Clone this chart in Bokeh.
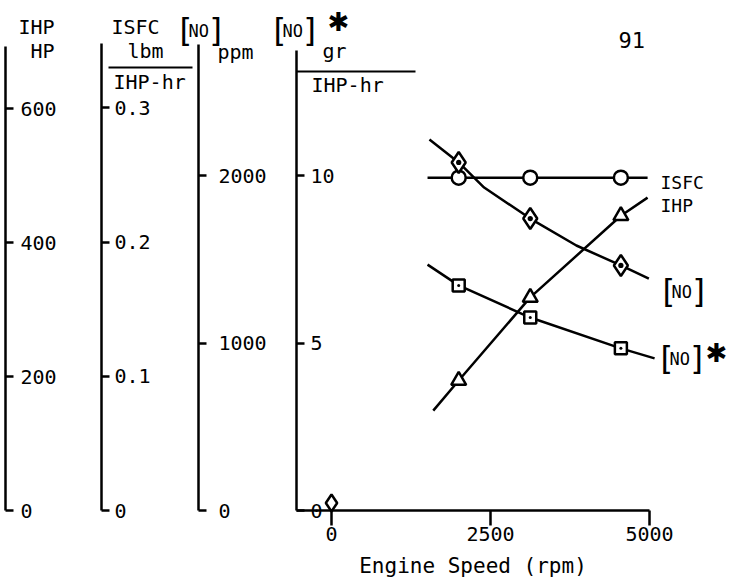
from bokeh.plotting import figure
from bokeh.models import Range1d, LinearAxis, FixedTicker, Label, BoxAnnotation
from bokeh.embed import file_html
from bokeh.resources import INLINE

# ---- test points (engine speed in rpm) ----
speed_rpm = [2000, 3125, 4550]
isfc_pts = [0.248, 0.248, 0.248]          # lbm / IHP-hr
ihp_pts = [194, 318, 440]                 # HP
no_ppm_pts = [2078, 1743, 1463]           # [NO], ppm
no_star_pts = [6.72, 5.76, 4.84]          # [NO]*, gr / IHP-hr

# ---- faired curves through the points ----
isfc_curve_rpm = [1510, 4970]
isfc_curve = [0.248, 0.248]
ihp_curve_rpm = [1600, 2000, 3125, 4550, 4970]
ihp_curve = [149, 194, 318, 440, 467]
no_curve_rpm = [1540, 2000, 2400, 3125, 3850, 4550, 4990]
no_curve = [2215, 2078, 1928, 1743, 1582, 1463, 1385]
no_star_curve_rpm = [1510, 2000, 3125, 4550, 5080]
no_star_curve = [7.34, 6.72, 5.76, 4.84, 4.54]

# isolated symbol at the origin
origin_rpm = [0]
origin_ppm = [45]

# ---- axis ticks ----
speed_ticks = [0, 2500, 5000]
hp_ticks = [0, 200, 400, 600]
isfc_ticks = [0, 0.1, 0.2, 0.3]
ppm_ticks = [0, 1000, 2000]
gr_ticks = [0, 5, 10]

# ---- page geometry: the frame fills the whole canvas ----
W, H = 735, 580
X0, SX = 331, 0.0636            # pixel of 0 rpm, pixels per rpm
Y0 = 510                        # pixel row of the common zero
S_GR, S_PPM, S_HP, S_ISFC = 33.5, 0.1675, 0.67, 1342.0   # pixels per unit

FONT = "DejaVu Sans Mono"
WEIGHT = "normal"
LW = 2.5


def rpm_at(px):
    return (px - X0) / SX


def gr_at(py):
    return (Y0 - py) / S_GR


def span(scale):
    return Range1d(-(H - Y0) / scale, Y0 / scale)


p = figure(width=W, height=H, x_range=Range1d(rpm_at(0), rpm_at(W)), y_range=span(S_GR),
           min_border=0, toolbar_location=None, output_backend="svg",
           x_axis_location=None, y_axis_location=None, outline_line_color=None)
p.grid.visible = False
p.extra_y_ranges = {"hp": span(S_HP), "isfc": span(S_ISFC), "ppm": span(S_PPM)}

axis_style = dict(axis_line_width=LW, axis_line_color="black",
                  major_tick_line_width=LW, major_tick_line_color="black", major_tick_in=0,
                  major_label_text_font=FONT, major_label_text_font_size="20px",
                  major_label_text_font_style=WEIGHT, major_label_text_color="black")


def vertical_axis(px, ticks, range_name, scale, top_px, standoff, overrides=None):
    ax = LinearAxis(y_range_name=range_name, fixed_location=rpm_at(px),
                    ticker=FixedTicker(ticks=ticks), bounds=(0, (Y0 - top_px) / scale),
                    major_tick_out=8, major_label_standoff=standoff, **axis_style)
    if overrides:
        ax.major_label_overrides = overrides
    p.add_layout(ax, "right")


vertical_axis(5, hp_ticks, "hp", S_HP, 46, 7)
vertical_axis(101, isfc_ticks, "isfc", S_ISFC, 43, 5, {0: "0"})
vertical_axis(198, ppm_ticks, "ppm", S_PPM, 44, 12)
vertical_axis(296, gr_ticks, "default", S_GR, 50, 6)

xaxis = LinearAxis(fixed_location=0, ticker=FixedTicker(ticks=speed_ticks),
                   bounds=(rpm_at(296), 5000), axis_label="Engine Speed (rpm)",
                   major_tick_out=15, major_label_standoff=1,
                   axis_label_text_font=FONT, axis_label_text_font_size="21px",
                   axis_label_text_font_style=WEIGHT, axis_label_text_color="black",
                   axis_label_standoff=10, **axis_style)
p.add_layout(xaxis, "below")

# ---- curves ----
p.line(isfc_curve_rpm, isfc_curve, y_range_name="isfc", line_width=LW, color="black")
p.line(ihp_curve_rpm, ihp_curve, y_range_name="hp", line_width=LW, color="black")
p.line(no_curve_rpm, no_curve, y_range_name="ppm", line_width=LW, color="black")
p.line(no_star_curve_rpm, no_star_curve, line_width=LW, color="black")

# ---- symbols ----
mk = dict(fill_color="white", line_color="black", line_width=LW)
p.scatter(speed_rpm, isfc_pts, y_range_name="isfc", marker="circle", size=14, **mk)
p.scatter(speed_rpm, ihp_pts, y_range_name="hp", marker="triangle", size=15, **mk)
p.scatter(speed_rpm, no_ppm_pts, y_range_name="ppm", marker="diamond_dot", size=21, **mk)
p.scatter(speed_rpm, no_star_pts, marker="square_dot", size=12, **mk)
p.scatter(origin_rpm, origin_ppm, y_range_name="ppm", marker="diamond", size=17, **mk)


# ---- lettering ----
def text(px, py, s, size=20, font=FONT, align="left", style=WEIGHT):
    p.add_layout(Label(x=rpm_at(px), y=gr_at(py), text=s, text_font=font,
                       text_font_size=f"{size}px", text_font_style=style, text_align=align,
                       text_baseline="middle", text_color="black"))


def bracket_no(px, py):
    text(px - 3, py, "[", size=32, font="DejaVu Sans")
    text(px + 6, py + 1, "NO", size=17)
    text(px + 27, py, "]", size=32, font="DejaVu Sans")


def bar(x1, x2, py):
    p.add_layout(BoxAnnotation(left=rpm_at(x1), right=rpm_at(x2), top=gr_at(py - 1),
                               bottom=gr_at(py + 1), fill_color="black", fill_alpha=1,
                               line_color=None))


text(18, 26, "IHP")
text(30, 50, "HP")
text(111, 26, "ISFC")
bracket_no(182, 29)
text(127, 50, "lbm")
bar(108, 192, 67)
text(113, 81, "IHP-hr")
text(217, 51, "ppm")
bracket_no(276, 29)
text(327, 21, "\u2731", size=26, font="DejaVu Sans")
text(322, 50, "gr")
bar(296, 415, 71)
text(311, 84, "IHP-hr")
text(618, 39, "91", size=22)

text(660, 182, "ISFC", size=18)
text(660, 205, "IHP", size=18)
bracket_no(665, 290)
bracket_no(663, 357)
text(705, 352, "\u2731", size=26, font="DejaVu Sans")

open("out.html", "w").write(file_html(p, INLINE))
